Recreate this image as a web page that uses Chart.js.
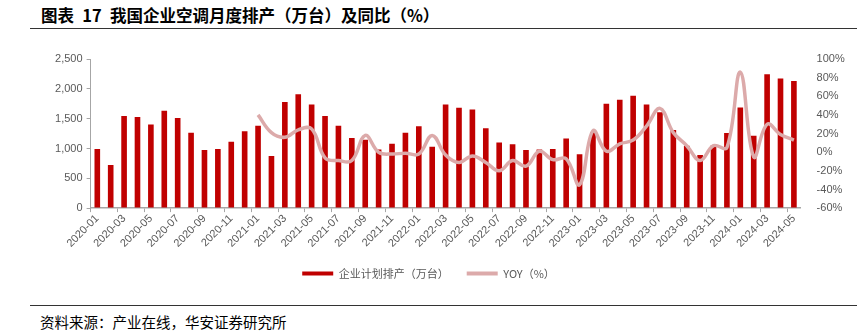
<!DOCTYPE html>
<html lang="zh">
<head>
    <meta charset="UTF-8">
    <script src="https://cdn.jsdelivr.net/npm/chart.js"></script>
    <title>空调月度排产</title>
    <style>
        body {
            margin: 0;
            padding: 0;
            width: 857px;
            height: 334px;
            background: #fff;
            position: relative;
            overflow: hidden;
            font-family: 'Noto Sans CJK SC', sans-serif;
        }
        .title {
            position: absolute;
            left: 41px;
            top: 3px;
            font-size: 16.5px;
            font-weight: bold;
            color: #000;
            white-space: nowrap;
        }
        .rule {
            position: absolute;
            left: 30px;
            right: 0;
            height: 1px;
            background: #333;
        }
        .source {
            position: absolute;
            left: 40px;
            top: 311px;
            font-size: 14.5px;
            color: #000;
            white-space: nowrap;
        }
        #wrap {
            position: absolute;
            left: 0;
            top: 40px;
            width: 857px;
            height: 253px;
        }
    </style>
</head>
<body>
    <div class="title">图表&ensp;17&ensp;我国企业空调月度排产（万台）及同比（%）</div>
    <div class="rule" style="top:28px"></div>
    <div id="wrap"><canvas id="myChart"></canvas></div>
    <div class="rule" style="top:305px"></div>
    <div class="source">资料来源：产业在线，华安证券研究所</div>
    <script>
        // months 2020-01 .. 2024-05
        const months = [];
        for (let y = 2020; y <= 2024; y++) {
            for (let m = 1; m <= 12; m++) {
                if (y === 2024 && m > 5) break;
                months.push(y + '-' + String(m).padStart(2, '0'));
            }
        }

        // 企业计划排产（万台）
        const output = [
            990, 722, 1546, 1529, 1400, 1631, 1512, 1264, 976, 993, 1112, 1287,
            1383, 875, 1778, 1907, 1738, 1546, 1383, 1174, 1146, 982, 1078, 1264,
            1371, 1027, 1738, 1682, 1653, 1337, 1100, 1072, 976, 982, 993, 1168,
            903, 1270, 1749, 1817, 1885, 1738, 1608, 1309, 1044, 892, 1055, 1258,
            1687, 1213, 2246, 2173, 2133
        ];

        // YOY（%）
        const yoy = [
            null, null, null, null, null, null, null, null, null, null, null, null,
            40, 21, 16, 24, 25, -6, -9, -9, 18, 0, -2, -1,
            -2, 18, -3, -11, -4, -11, -20, -9, -15, 1, -8, -7,
            -35, 23, 1, 9, 13, 28, 47, 21, 7, -9, 7, 5,
            86, -5, 30, 19, 13
        ];

        const leftTicks = [0, 500, 1000, 1500, 2000, 2500];
        const rightTicks = [-60, -40, -20, 0, 20, 40, 60, 80, 100];

        const grey = '#595959';
        const axisGrey = '#a6a6a6';
        const tickFont = { family: 'Liberation Sans, Arial, sans-serif', size: 11 };

        const data = {
            labels: months,
            datasets: [{
                type: 'bar',
                label: '企业计划排产（万台）',
                data: output,
                backgroundColor: '#c00000',
                categoryPercentage: 1,
                barPercentage: 0.42,
                yAxisID: 'y',
                order: 1
            }, {
                type: 'line',
                label: 'YOY（%）',
                data: yoy,
                borderColor: '#dcaaaa',
                backgroundColor: '#dcaaaa',
                borderWidth: 3.5,
                tension: 0.4,
                pointRadius: 0,
                yAxisID: 'y1',
                order: 0
            }]
        };

        const config = {
            data: data,
            options: {
                responsive: true,
                maintainAspectRatio: false,
                animation: false,
                layout: { padding: { top: 19, left: 0, right: 0, bottom: 4 } },
                plugins: {
                    tooltip: { enabled: false },
                    legend: {
                        position: 'bottom',
                        labels: {
                            boxWidth: 31,
                            boxHeight: 4,
                            padding: 18,
                            color: grey,
                            font: { family: 'Noto Sans CJK SC', size: 11 },
                            sort: (a, b) => a.datasetIndex - b.datasetIndex,
                            generateLabels: (chart) => {
                                const items = Chart.defaults.plugins.legend.labels.generateLabels(chart);
                                items.forEach(it => { it.lineWidth = 0; });
                                return items;
                            }
                        }
                    }
                },
                scales: {
                    x: {
                        offset: true,
                        grid: {
                            offset: true,
                            drawOnChartArea: false,
                            tickLength: 4,
                            color: (ctx) => ctx.index % 2 === 0 ? axisGrey : 'rgba(0,0,0,0)'
                        },
                        border: { color: axisGrey, width: 1.5 },
                        ticks: {
                            autoSkip: false,
                            minRotation: 45,
                            maxRotation: 45,
                            color: grey,
                            font: tickFont,
                            padding: 0,
                            callback: (v, i) => i % 2 === 0 ? months[i] : ''
                        }
                    },
                    y: {
                        position: 'left',
                        min: 0,
                        max: 2500,
                        afterBuildTicks: (s) => { s.ticks = leftTicks.map(v => ({ value: v })); },
                        afterFit: (s) => { s.width = 90.6; },
                        grid: { drawOnChartArea: false, tickLength: 4, color: axisGrey },
                        border: { color: axisGrey, width: 1 },
                        ticks: {
                            color: grey,
                            font: tickFont,
                            padding: 4,
                            callback: (v) => v.toLocaleString('en-US')
                        }
                    },
                    y1: {
                        position: 'right',
                        min: -60,
                        max: 100,
                        afterBuildTicks: (s) => { s.ticks = rightTicks.map(v => ({ value: v })); },
                        afterFit: (s) => { s.width = 56.4; },
                        grid: { display: false },
                        border: { display: false },
                        ticks: {
                            color: grey,
                            font: tickFont,
                            padding: 8,
                            callback: (v) => v + '%'
                        }
                    }
                }
            }
        };

        const ctx = document.getElementById('myChart').getContext('2d');
        const myChart = new Chart(ctx, config);
    </script>
</body>
</html>
